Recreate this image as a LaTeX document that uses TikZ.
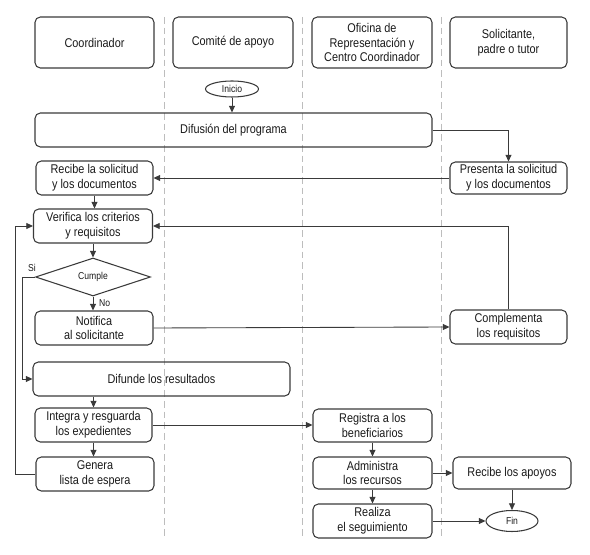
\documentclass[tikz,border=0pt]{standalone}
\usepackage{fontspec}
\setmainfont{Liberation Sans}[FakeStretch=0.86]
\usetikzlibrary{arrows.meta, shapes.geometric}

\begin{document}
\begin{tikzpicture}[x=0.75pt, y=-0.75pt,
    box/.style={draw=borderColour, line width=0.8pt, rounded corners=4pt, align=center,
        inner sep=1pt, font=\fontsize{9.5}{11}\selectfont, text=textColour},
    terminal/.style={draw=borderColour, line width=0.8pt, ellipse, inner sep=0pt,
        font=\fontsize{7.5}{9}\selectfont, text=textColour},
    decision/.style={draw=borderColour, line width=0.8pt, diamond, inner sep=0pt,
        font=\fontsize{7.5}{9}\selectfont, text=textColour},
    lane/.style={draw=laneColour, dashed, dash pattern=on 5pt off 3pt, line width=0.6pt},
    flow/.style={draw=borderColour, line width=0.65pt, -{Triangle[length=5pt,width=4.5pt]}},
    small/.style={font=\fontsize{7.5}{9}\selectfont, text=textColour}]
    % Define pixel unit
    \def\px{0.75pt}

    \definecolor{borderColour}{HTML}{3A3A3A}
    \definecolor{textColour}{HTML}{1A1A1A}
    \definecolor{laneColour}{HTML}{BDBDBD}

    \useasboundingbox (0,0) rectangle (590,555);

    % Draw swimlane separators
    \foreach \x in {164,302,441}
        \draw[lane] (\x,17) -- (\x,537);

    % Lane headers
    \node[box, minimum width=119*\px, minimum height=51*\px] (coordinador) at (94.5,42.5) {Coordinador};
    \node[box, minimum width=120*\px, minimum height=51*\px] (comite) at (233,42.5) {Comité de apoyo};
    \node[box, minimum width=120*\px, minimum height=51*\px] (oficina) at (372,42.5) {Oficina de\\Representación y\\Centro Coordinador};
    \node[box, minimum width=117*\px, minimum height=51*\px] (solicitante) at (508.5,42.5) {Solicitante,\\padre o tutor};

    % Process steps
    \node[terminal, minimum width=53*\px, minimum height=16*\px] (inicio) at (232,89) {Inicio};
    \node[box, minimum width=397*\px, minimum height=34*\px] (difusion) at (233.5,130) {Difusión del programa};
    \node[box, minimum width=117*\px, minimum height=32*\px] (presenta) at (508.5,178) {Presenta la solicitud\\y los documentos};
    \node[box, minimum width=117*\px, minimum height=34*\px] (recibe) at (94.5,178) {Recibe la solicitud\\y los documentos};
    \node[box, minimum width=119*\px, minimum height=34*\px] (verifica) at (93,226) {Verifica los criterios\\y requisitos};
    \node[decision, minimum width=115*\px, minimum height=38*\px, aspect=3] (cumple) at (93,277) {Cumple};
    \node[box, minimum width=118*\px, minimum height=34*\px] (notifica) at (94,328) {Notifica\\al solicitante};
    \node[box, minimum width=117*\px, minimum height=34*\px] (complementa) at (508.5,327) {Complementa\\los requisitos};
    \node[box, minimum width=257*\px, minimum height=34*\px] (difunde) at (161.5,379) {Difunde los resultados};
    \node[box, minimum width=117*\px, minimum height=34*\px] (integra) at (93.5,425) {Integra y resguarda\\los expedientes};
    \node[box, minimum width=118*\px, minimum height=34*\px] (genera) at (95,474) {Genera\\lista de espera};
    \node[box, minimum width=119*\px, minimum height=33*\px] (registra) at (372.5,425.5) {Registra a los\\beneficiarios};
    \node[box, minimum width=119*\px, minimum height=32*\px] (administra) at (372.5,473) {Administra\\los recursos};
    \node[box, minimum width=119*\px, minimum height=34*\px] (realiza) at (372.5,521) {Realiza\\el seguimiento};
    \node[box, minimum width=118*\px, minimum height=32*\px] (recibeApoyos) at (512,473) {Recibe los apoyos};
    \node[terminal, minimum width=52*\px, minimum height=21*\px] (fin) at (512,521) {Fin};

    % Turning points
    \coordinate (siTurn) at (22,277);
    \coordinate (loopTurn) at (15,474);

    % Draw connectors
    \draw[flow] (inicio) -- (difusion.north -| inicio);
    \draw[flow] (difusion.east) -| (presenta.north);
    \draw[flow] (presenta.west) -- (recibe.east);
    \draw[flow] (recibe.south) -- (recibe.south |- verifica.north);
    \draw[flow] (verifica) -- (cumple);
    \draw[flow] (cumple.south) -- (notifica.north -| cumple.south)
        node[small, pos=0.45, right=1pt] {No};
    \draw[flow] (cumple.west) -- (siTurn) |- (difunde.west);
    \node[small] (si) at (32,268) {Si};
    \draw[flow] (notifica.east) -- (complementa.west);
    \draw[flow] (complementa.north) |- (verifica.east);
    \draw[flow] (genera.west) -- (loopTurn) |- (verifica.west);
    \draw[flow] (difunde.south -| integra.north) -- (integra.north);
    \draw[flow] (integra.south) -- (integra.south |- genera.north);
    \draw[flow] (integra.east) -- (integra.east -| registra.west);
    \draw[flow] (registra) -- (administra);
    \draw[flow] (administra) -- (realiza);
    \draw[flow] (administra.east) -- (recibeApoyos.west);
    \draw[flow] (recibeApoyos) -- (fin);
    \draw[flow] (realiza.east) -- (fin.west);

\end{tikzpicture}
\end{document}
